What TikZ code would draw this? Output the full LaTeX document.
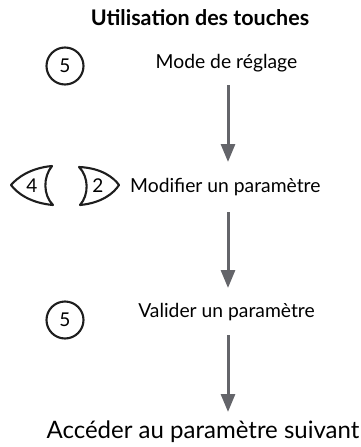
\documentclass[tikz,border=0pt]{standalone}
\usepackage{fontspec}
\setmainfont{Lato}
\usepackage{xcolor}
\usetikzlibrary{arrows.meta}
\definecolor{flowgray}{RGB}{100,101,106}
\definecolor{keyblack}{RGB}{30,30,30}
\tikzstyle{flow}=[line width=3pt,flowgray,-{Triangle[length=18pt,width=14pt]}]
\tikzstyle{keyring}=[circle,draw=keyblack,line width=2.1pt,minimum size=37pt,inner sep=0pt,font=\fontsize{19}{19}\selectfont]
\tikzstyle{keyedge}=[draw=keyblack,line width=2.1pt,line join=round]
\tikzstyle{label}=[anchor=base,inner sep=0pt,font=\fontsize{19.3}{21}\selectfont]
\newcommand\keydigit[1]{\fontsize{19}{19}\selectfont #1}

\begin{document}
\begin{tikzpicture}[x=1pt,y=-1pt]
	\useasboundingbox (0,0) rectangle (360,447);
	% titre
	\node[label,font=\fontsize{21.5}{23}\selectfont\bfseries] (titre) at (200,25) {Utilisation des touches};
	% touches
	\node[keyring] (k5a) at (65,66) {5};
	\draw[keyedge] (52,166) .. controls (30,168) and (17,178) .. (11,185)
		.. controls (17,193) and (30,203) .. (53,205)
		.. controls (43,195) and (43,177) .. (52,166) -- cycle;
	\node[inner sep=0pt] (k4) at (32,186) {\keydigit{4}};
	\draw[keyedge] (79,167) .. controls (89,177) and (89,195) .. (80,205)
		.. controls (102,203) and (114,193) .. (119,185)
		.. controls (114,178) and (102,168) .. (79,167) -- cycle;
	\node[inner sep=0pt] (k2) at (98,186) {\keydigit{2}};
	\node[keyring] (k5b) at (65,320) {5};
	% textes
	\node[label] (mode) at (226.5,68) {Mode de réglage};
	\node[label,anchor=base west] (modif) at (130,192) {Modifier un paramètre};
	\node[label] (valid) at (226.5,317) {Valider un paramètre};
	\node[label,font=\fontsize{24}{26}\selectfont] (suiv) at (203,438) {Accéder au paramètre suivant};
	% fleches
	\coordinate (a1) at (228,85);  \coordinate (b1) at (228,162);
	\coordinate (a2) at (228,212); \coordinate (b2) at (228,288);
	\coordinate (a3) at (228,335); \coordinate (b3) at (228,412);
	\draw[flow] (a1) -- (b1);
	\draw[flow] (a2) -- (b2);
	\draw[flow] (a3) -- (b3);
\end{tikzpicture}
\end{document}
